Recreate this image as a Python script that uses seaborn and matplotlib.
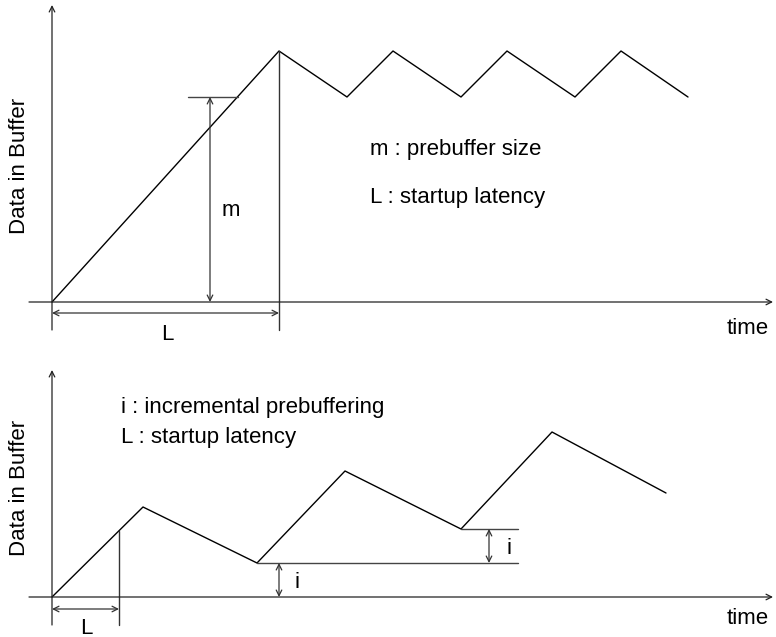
import matplotlib
matplotlib.use("Agg")
import matplotlib.pyplot as plt
import seaborn as sns
import pandas as pd

sns.set_theme(style="white")
plt.rcParams['font.family'] = ['Liberation Sans', 'DejaVu Sans']
plt.rcParams['text.color'] = 'black'

# ---- Top panel data (time, data in buffer) ----
top_time = [0, 227, 295, 341, 409, 455, 523, 569, 636]
top_buffer = [0, 251, 205, 251, 205, 251, 205, 251, 205]
prebuffer_m = 205
startup_L_top = 227
top_legend = ["m : prebuffer size", "L : startup latency"]

# ---- Bottom panel data ----
bot_time = [0, 91, 205, 293, 409, 500, 614]
bot_buffer = [0, 90, 34, 126, 68, 165, 104]
startup_L_bot = 67
incr_i = 34
bot_legend = ["i : incremental prebuffering", "L : startup latency"]

ylabel = "Data in Buffer"
xlabel = "time"

W, H = 776, 637
fig = plt.figure(figsize=(W / 100, H / 100), dpi=100)

FS = 16
LW = 1.0
ARW = dict(arrowstyle="<->", color="#333333", lw=0.9, mutation_scale=10,
           shrinkA=0, shrinkB=0)
ARR1 = dict(arrowstyle="->", color="#222222", lw=0.9, mutation_scale=10,
            shrinkA=0, shrinkB=0)


def make_ax(ox, oy):
    ax = fig.add_axes([0, 0, 1, 1])
    ax.set_xlim(-ox, W - ox)
    ax.set_ylim(oy - H, oy)
    ax.axis("off")
    ax.patch.set_alpha(0)
    return ax


def axes_arrows(ax, ytop, ybot):
    ax.annotate("", xy=(721, 0), xytext=(-23, 0), arrowprops=ARR1)
    ax.annotate("", xy=(0, ytop), xytext=(0, ybot), arrowprops=ARR1)


# ---------- top ----------
ax1 = make_ax(52, 302)
df1 = pd.DataFrame({"time": top_time, "buffer": top_buffer})
sns.lineplot(data=df1, x="time", y="buffer", ax=ax1, color="black", lw=LW,
             sort=False, estimator=None)
axes_arrows(ax1, 297, -28)
# m bracket
ax1.plot([136, 186], [prebuffer_m, prebuffer_m], color="#444444", lw=LW)
ax1.annotate("", xy=(158, prebuffer_m), xytext=(158, 0), arrowprops=ARW)
ax1.text(179, 92, "m", fontsize=FS, ha="center", va="center")
# L bracket
ax1.plot([startup_L_top, startup_L_top], [max(top_buffer), -28], color="#333333", lw=LW)
ax1.annotate("", xy=(0, -11), xytext=(startup_L_top, -11), arrowprops=ARW)
ax1.text(startup_L_top / 2 + 2, -33, "L", fontsize=FS, ha="center", va="center")
ax1.text(318, 152, top_legend[0], fontsize=FS, ha="left", va="center")
ax1.text(318, 104, top_legend[1], fontsize=FS, ha="left", va="center")
ax1.text(696, -26, xlabel, fontsize=FS, ha="center", va="center")
ax1.text(-32, 136, ylabel, fontsize=FS, ha="center", va="center", rotation=90)

# ---------- bottom ----------
ax2 = make_ax(52, 597)
df2 = pd.DataFrame({"time": bot_time, "buffer": bot_buffer})
sns.lineplot(data=df2, x="time", y="buffer", ax=ax2, color="black", lw=LW,
             sort=False, estimator=None)
axes_arrows(ax2, 227, -28)
# L bracket
l_y = bot_buffer[1] * startup_L_bot / bot_time[1]
ax2.plot([startup_L_bot, startup_L_bot], [l_y, -28], color="#333333", lw=LW)
ax2.annotate("", xy=(0, -12), xytext=(startup_L_bot, -12), arrowprops=ARW)
ax2.text(34, -31, "L", fontsize=FS, ha="center", va="center")
# i brackets
lvl1 = bot_buffer[2]
lvl2 = bot_buffer[4]
ax2.plot([bot_time[2], 466], [lvl1, lvl1], color="#444444", lw=LW)
ax2.plot([bot_time[4], 466], [lvl2, lvl2], color="#444444", lw=LW)
ax2.annotate("", xy=(227, lvl1), xytext=(227, 0), arrowprops=ARW)
ax2.annotate("", xy=(437, lvl2), xytext=(437, lvl1), arrowprops=ARW)
ax2.text(245, 14, "i", fontsize=FS, ha="center", va="center")
ax2.text(457, 49, "i", fontsize=FS, ha="center", va="center")
ax2.text(69, 190, bot_legend[0], fontsize=FS, ha="left", va="center")
ax2.text(69, 160, bot_legend[1], fontsize=FS, ha="left", va="center")
ax2.text(696, -21, xlabel, fontsize=FS, ha="center", va="center")
ax2.text(-32, 109, ylabel, fontsize=FS, ha="center", va="center", rotation=90)

fig.savefig("out.png", dpi=100)
